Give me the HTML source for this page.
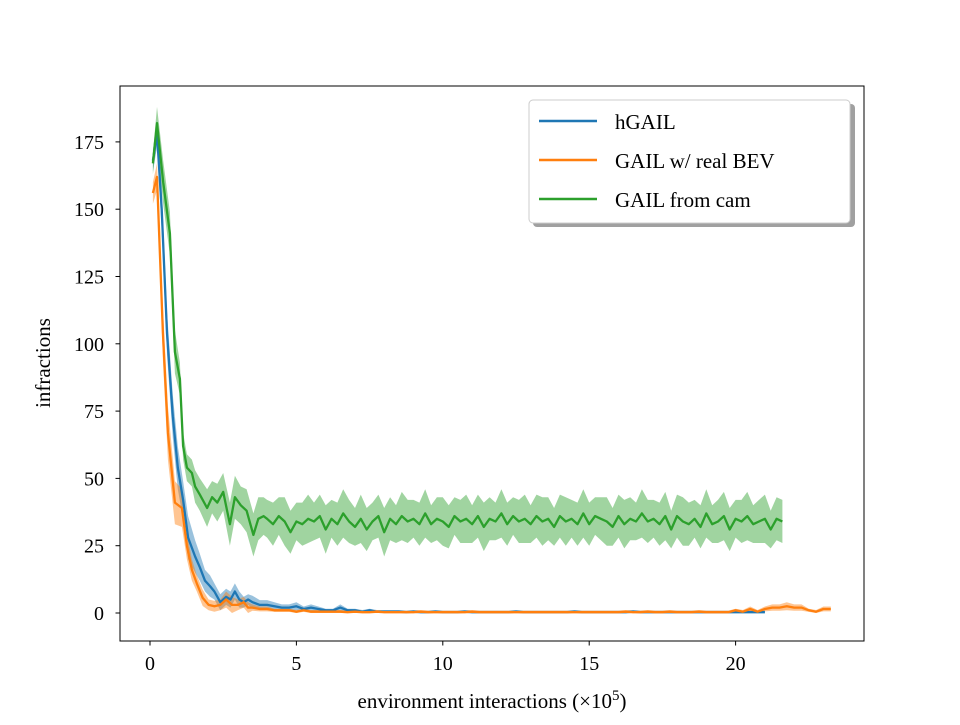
<!DOCTYPE html>
<html><head><meta charset="utf-8"><style>
body{margin:0;background:#fff;}
svg text{font-family:"Liberation Serif",serif;fill:#000;}
</style></head><body>
<svg id="chart" width="960" height="720" xmlns="http://www.w3.org/2000/svg">
<g id="bands"></g>
<g id="lines"></g>
<rect x="120" y="86" width="744" height="555" fill="none" stroke="#000" stroke-width="1"/>
<g id="xticks"></g>
<g id="yticks"></g>
<text x="492" y="708" font-size="21" text-anchor="middle">environment interactions (×10<tspan dy="-8" font-size="15">5</tspan><tspan dy="8">)</tspan></text>
<text transform="translate(50,363) rotate(-90)" font-size="21" text-anchor="middle">infractions</text>
<g>
<rect x="533" y="104" width="322" height="123" rx="4" fill="#888" opacity="0.8"/>
<rect x="529" y="100" width="321" height="123" rx="4" fill="#fff" stroke="#ccc"/>
<g><line x1="539" y1="121" x2="597" y2="121" stroke="#1f77b4" stroke-width="2.5"/><text x="615" y="129" font-size="21">hGAIL</text></g>
<g><line x1="539" y1="160" x2="597" y2="160" stroke="#ff7f0e" stroke-width="2.5"/><text x="615" y="168" font-size="21">GAIL w/ real BEV</text></g>
<g><line x1="539" y1="199" x2="597" y2="199" stroke="#2ca02c" stroke-width="2.5"/><text x="615" y="207" font-size="21">GAIL from cam</text></g>
</g>
</svg>
<script>
const xTicks=[0,5,10,15,20];
const yTicks=[0,25,50,75,100,125,150,175];
// early (dense) portion
const greenEarlyX=[0.1,0.24,0.45,0.68,0.85,1.02,1.13,1.26,1.43,1.54,1.7,1.95,2.12,2.3,2.5,2.73,2.9,3.1,3.3,3.53,3.7,3.88];
const greenEarlyY=[167,182,160,141,97,87,62,54,52,47,44,39,43,41,45,33,43,40,38,29,35,36];
const greenEarlyErr=[4,6,8,8,8,6,5,5,5,6,6,7,6,7,7,8,8,7,8,8,8,7];
// flat portion from x=4.0, step 0.2
const greenFlat=[35,33,36,34,30,34,33,35,34,36,31,35,33,37,34,32,35,31,34,36,30,35,33,36,34,35,33,37,33,35,34,32,36,34,35,33,36,32,35,34,37,33,36,34,35,33,36,34,35,32,36,34,35,33,37,33,36,35,34,32,36,33,35,34,37,34,35,33,36,31,36,34,33,35,32,37,33,34,36,31,35,34,36,33,34,35,31,35,34];
const greenFlatErr=[7,8,7,9,8,7,8,9,7,8,9,7,8,9,8,7,9,8,7,8,9,8,7,9,8,7,8,9,7,8,9,8,7,8,9,7,8,9,8,7,9,8,7,8,9,7,8,9,8,7,8,9,7,8,9,8,7,8,9,7,8,9,8,7,9,8,7,8,9,7,8,9,8,7,8,9,7,8,9,8,7,8,9,7,8,9,7,8,8];
const blueEarlyX=[0.1,0.24,0.4,0.58,0.78,0.95,1.13,1.3,1.54,1.7,1.88,2.05,2.2,2.4,2.6,2.75,2.9,3.05,3.2,3.35];
const blueEarlyY=[168,178,150,104,73,54,42,28,21,17,12,10,8,4,6,5,8,5,4,5];
const blueEarlyErr=[4,5,8,8,8,8,7,8,6,5,4,4,3,3,3,3,3,3,2,2];
// from 3.5, step 0.25
const blueFlat=[4,3,3,2.5,2,2,2.5,1.5,2,1.5,1,1,2,1,1,0.5,1,0.5,0.5,0.5,0.5,0.3,0.5,0.3,0.3,0.5,0.3,0.3,0.3,0.5,0.3,0.3,0.3,0.3,0.3,0.3,0.5,0.3,0.3,0.3,0.3,0.3,0.3,0.3,0.5,0.3,0.3,0.3,0.3,0.3,0.3,0.3,0.5,0.3,0.3,0.3,0.3,0.3,0.3,0.3,0.3,0.3,0.3,0.3,0.3,0.3,0.3,0.3,0.3,0.3,0.3];
const orangeEarlyX=[0.1,0.24,0.44,0.61,0.85,1.09,1.26,1.43,1.6,1.8,2.0,2.2,2.4,2.6,2.8,3.0,3.2,3.35];
const orangeEarlyY=[156,162,104,67,41,39,25,16,11,5.6,3,2.5,3,5,3,3,4,2];
const orangeEarlyErr=[4,5,10,10,8,7,5,4,3,3,2,2,2,3,3,2,2,2];
// from 3.5, step 0.25
const orangeFlat=[2,1.5,1.5,1,1,1,0.5,1,0.5,0.5,0.5,0.5,0.5,0.3,0.5,0.3,0.3,0.5,0.3,0.3,0.3,0.3,0.3,0.5,0.3,0.3,0.3,0.3,0.3,0.3,0.5,0.3,0.3,0.3,0.3,0.3,0.3,0.3,0.3,0.3,0.3,0.3,0.3,0.3,0.3,0.3,0.3,0.3,0.3,0.3,0.3,0.5,0.3,0.3,0.5,0.3,0.3,0.5,0.3,0.3,0.3,0.5,0.3,0.3,0.3,0.3,1,0.5,1.5,0.5,1.5,2,2,2.5,2,2,1,0.5,1.5,1.5];

const NS='http://www.w3.org/2000/svg';
const px=x=>150+x*29.28;
const py=y=>613-y*2.692;
function mk(tag,attrs,parent){const e=document.createElementNS(NS,tag);for(const k in attrs)e.setAttribute(k,attrs[k]);parent.appendChild(e);return e;}
function build(ex,ey,ee,x0,step,fy,fe){
  const pts=[];
  for(let i=0;i<ex.length;i++)pts.push([ex[i],ey[i],ee[i]]);
  for(let i=0;i<fy.length;i++)pts.push([x0+i*step,fy[i],fe?fe[i]:Math.max(0.6,fy[i]*0.6)]);
  return pts;
}
const series=[
 {name:'hgail',color:'#1f77b4',pts:build(blueEarlyX,blueEarlyY,blueEarlyErr,3.5,0.25,blueFlat,null)},
 {name:'gail-real-bev',color:'#ff7f0e',pts:build(orangeEarlyX,orangeEarlyY,orangeEarlyErr,3.5,0.25,orangeFlat,null)},
 {name:'gail-from-cam',color:'#2ca02c',pts:build(greenEarlyX,greenEarlyY,greenEarlyErr,4.0,0.2,greenFlat,greenFlatErr)}
];
const bands=document.getElementById('bands'),lines=document.getElementById('lines');
series.forEach(s=>{
  const up=s.pts.map(p=>px(p[0]).toFixed(1)+','+py(p[1]+p[2]).toFixed(1));
  const dn=s.pts.slice().reverse().map(p=>px(p[0]).toFixed(1)+','+py(Math.max(0,p[1]-p[2])).toFixed(1));
  const b=mk('polygon',{points:up.concat(dn).join(' '),fill:s.color,opacity:0.45},bands);
  
  
  const l=mk('polyline',{points:s.pts.map(p=>px(p[0]).toFixed(1)+','+py(p[1]).toFixed(1)).join(' '),fill:'none',stroke:s.color,'stroke-width':2.3,'stroke-linejoin':'round'},lines);
  
  
});
const xg=document.getElementById('xticks');
xTicks.forEach(t=>{
  const g=mk('g',{},xg);
  
  
  mk('line',{x1:px(t),x2:px(t),y1:641,y2:645.5,stroke:'#000'},g);
  const tx=mk('text',{x:px(t),y:670,'font-size':20,'text-anchor':'middle'},g);tx.textContent=t;
});
const yg=document.getElementById('yticks');
yTicks.forEach(t=>{
  const g=mk('g',{},yg);
  
  
  mk('line',{x1:115.5,x2:120,y1:py(t),y2:py(t),stroke:'#000'},g);
  const tx=mk('text',{x:104,y:py(t)+7,'font-size':20,'text-anchor':'end'},g);tx.textContent=t;
});
</script>
</body></html>
